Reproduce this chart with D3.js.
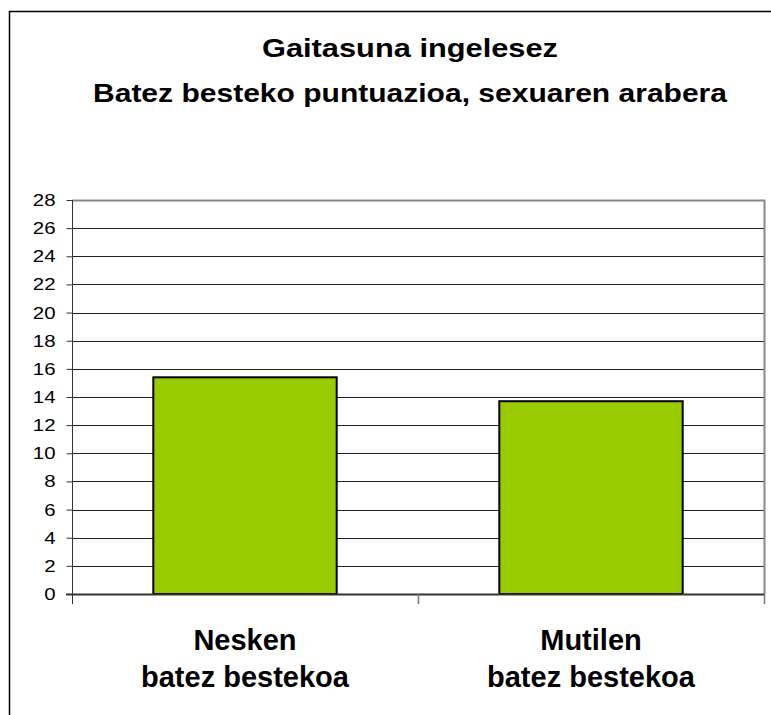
<!DOCTYPE html>
<html>
<head>
<meta charset="utf-8">
<script src="https://cdn.jsdelivr.net/npm/d3@7"></script>
<style>
  body { margin: 0; background: #fff; }
  text { font-family: "Liberation Sans", Arial, sans-serif; fill: #000; }
</style>
</head>
<body>
<div id="chart"></div>
<script>
// chart data
var titleLines = ["Gaitasuna ingelesez", "Batez besteko puntuazioa, sexuaren arabera"];
var titleWidths = [296, 634];
var categories = [["Nesken", "batez bestekoa"], ["Mutilen", "batez bestekoa"]];
var values = [15.4, 13.7];
var yTicks = d3.range(0, 29, 2);

function draw() {
  var width = 771, height = 715;
  var plotLeft = 72, plotRight = 764, plotTop = 200, plotBottom = 594;

  var svg = d3.select("#chart").append("svg")
    .attr("width", width)
    .attr("height", height);

  // outer chart border (runs off the right and bottom edge)
  svg.append("rect")
    .attr("x", 9.5).attr("y", 11.5)
    .attr("width", 800).attr("height", 800)
    .attr("fill", "none").attr("stroke", "#000").attr("stroke-width", 1.5);

  // title, stretched to the reference width
  svg.selectAll(".title")
    .data(titleLines)
    .enter().append("text")
    .attr("class", "title")
    .attr("x", 410)
    .attr("y", function(d, i) { return 57 + i * 45; })
    .attr("text-anchor", "middle")
    .attr("font-size", 26)
    .attr("font-weight", "bold")
    .attr("textLength", function(d, i) { return titleWidths[i]; })
    .attr("lengthAdjust", "spacingAndGlyphs")
    .text(function(d) { return d; });

  var x = d3.scaleBand()
    .domain(d3.range(categories.length))
    .range([plotLeft, plotRight])
    .paddingInner(0.47)
    .paddingOuter(0.235);

  var y = d3.scaleLinear().domain([0, 28]).range([plotBottom, plotTop]);

  // gridlines
  svg.selectAll(".grid")
    .data(yTicks.filter(function(d) { return d > 0 && d < 28; }))
    .enter().append("line")
    .attr("x1", plotLeft).attr("x2", plotRight)
    .attr("y1", function(d) { return Math.round(y(d)) + 0.5; })
    .attr("y2", function(d) { return Math.round(y(d)) + 0.5; })
    .attr("stroke", "#222").attr("stroke-width", 1);

  // plot area border (top and right)
  svg.append("path")
    .attr("d", "M" + plotLeft + "," + (plotTop + 0.5) + "H" + (plotRight + 0.5) + "V" + plotBottom)
    .attr("fill", "none").attr("stroke", "#888").attr("stroke-width", 2);

  // bars
  svg.selectAll(".bar")
    .data(values)
    .enter().append("rect")
    .attr("x", function(d, i) { return x(i); })
    .attr("y", function(d) { return y(d); })
    .attr("width", x.bandwidth())
    .attr("height", function(d) { return y(0) - y(d); })
    .attr("fill", "#99CC00")
    .attr("stroke", "#000").attr("stroke-width", 2);

  // y axis
  var yAxis = d3.axisLeft(y)
    .tickValues(yTicks)
    .tickSize(6)
    .tickPadding(11)
    .tickFormat(d3.format("d"));

  var gy = svg.append("g")
    .attr("transform", "translate(" + (plotLeft + 0.5) + ",0)")
    .call(yAxis);
  gy.select(".domain").remove();
  gy.append("line")
    .attr("x1", 0).attr("x2", 0)
    .attr("y1", plotTop).attr("y2", plotBottom + 10)
    .attr("stroke", "#333");
  gy.selectAll(".tick line").attr("stroke", "#333");
  gy.selectAll(".tick text")
    .attr("font-size", 17)
    .attr("font-family", "Liberation Sans, Arial, sans-serif")
    .attr("fill", "#000")
    .each(function() {
      // labels in the reference are a bit wider than plain Arial
      var w = this.getComputedTextLength();
      d3.select(this).attr("textLength", w * 1.2).attr("lengthAdjust", "spacingAndGlyphs");
    });

  // x axis line and category separators
  svg.append("line")
    .attr("x1", plotLeft - 6).attr("x2", plotRight)
    .attr("y1", plotBottom + 0.5).attr("y2", plotBottom + 0.5)
    .attr("stroke", "#333").attr("stroke-width", 2);

  var step = x.step();
  svg.selectAll(".sep")
    .data(d3.range(1, categories.length + 1))
    .enter().append("line")
    .attr("x1", function(d) { return plotLeft + step * d + 0.5; })
    .attr("x2", function(d) { return plotLeft + step * d + 0.5; })
    .attr("y1", plotBottom).attr("y2", plotBottom + 10)
    .attr("stroke", "#777").attr("stroke-width", 1.5);

  // category labels
  var labels = svg.selectAll(".cat")
    .data(categories)
    .enter().append("text")
    .attr("class", "cat")
    .attr("text-anchor", "middle")
    .attr("font-size", 29)
    .attr("font-weight", "bold");

  labels.selectAll("tspan")
    .data(function(d, i) { return d.map(function(t) { return { t: t, i: i }; }); })
    .enter().append("tspan")
    .attr("x", function(d) { return x(d.i) + x.bandwidth() / 2; })
    .attr("y", function(d, j) { return 650 + j * 37; })
    .text(function(d) { return d.t; });
}

draw();
</script>
</body>
</html>
